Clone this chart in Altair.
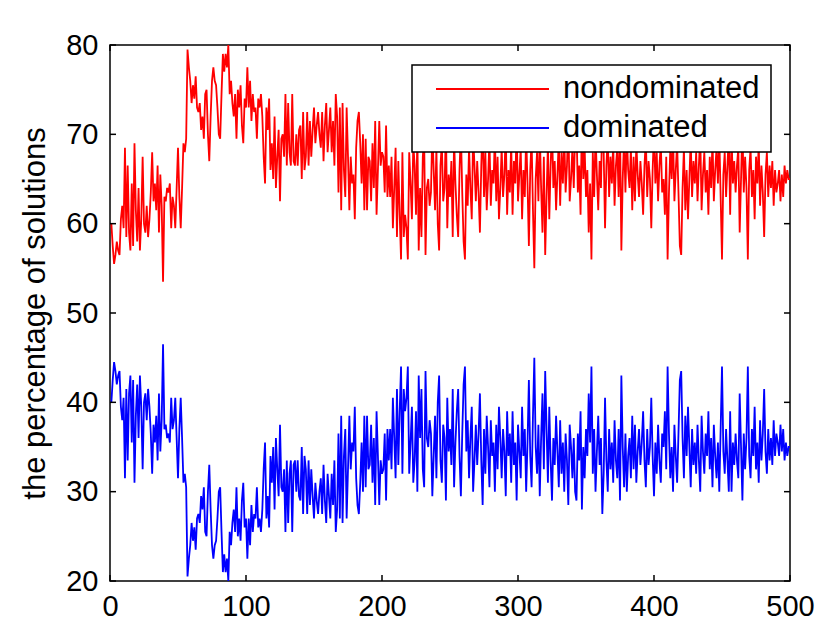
import altair as alt
import pandas as pd

# nondominated percentage, generations 1..500
nondominated = [
    60.0, 57.5, 55.5, 56.5, 58.0, 57.0, 56.5, 60.5, 62.0, 59.5,
    68.5, 58.5, 66.5, 59.0, 57.0, 64.5, 57.5, 69.0, 61.5, 58.0,
    64.0, 57.0, 60.5, 67.5, 60.0, 59.0, 62.0, 58.5, 60.5, 63.5,
    68.0, 62.5, 64.5, 61.5, 66.5, 59.0, 65.5, 62.0, 53.5, 63.0,
    62.5, 64.0, 63.5, 64.5, 59.5, 63.0, 62.0, 59.5, 64.0, 68.5,
    63.0, 59.5, 64.0, 69.0, 68.0, 69.5, 79.5, 77.5, 76.0, 73.5,
    75.5, 74.0, 76.5, 73.0, 72.5, 73.5, 70.5, 72.0, 69.5, 74.5,
    75.0, 70.0, 67.0, 72.0, 76.0, 77.5, 76.0, 75.5, 73.0, 70.0,
    69.5, 74.5, 79.0, 77.0, 79.0, 77.5, 80.0, 74.5, 76.0, 73.5,
    72.0, 74.5, 69.5, 75.0, 73.0, 75.5, 71.0, 69.0, 74.0, 73.0,
    77.5, 73.0, 76.0, 71.5, 74.5, 72.5, 73.0, 69.5, 74.0, 73.0,
    74.5, 72.0, 67.5, 64.5, 73.0, 70.5, 74.0, 66.0, 69.0, 65.0,
    72.0, 64.0, 67.5, 70.5, 62.5, 69.5, 70.0, 67.5, 74.5, 66.5,
    73.5, 68.0, 66.5, 74.5, 67.0, 66.5, 70.0, 66.5, 70.5, 71.0,
    65.0, 72.5, 66.0, 67.5, 72.5, 66.5, 71.5, 67.5, 70.5, 73.0,
    69.0, 71.0, 72.5, 70.0, 68.5, 72.5, 67.0, 71.0, 73.5, 68.0,
    70.5, 73.0, 68.0, 71.5, 66.5, 74.5, 72.0, 63.5, 73.0, 61.5,
    73.5, 66.0, 63.0, 73.0, 67.5, 61.5, 67.5, 64.5, 65.5, 60.5,
    68.5, 71.5, 72.5, 69.0, 64.5, 70.0, 61.5, 69.5, 61.5, 67.5,
    67.0, 62.5, 69.0, 64.0, 71.5, 61.0, 66.0, 71.5, 66.5, 68.0,
    67.5, 63.5, 71.0, 63.0, 66.5, 63.0, 67.5, 59.5, 64.0, 68.5,
    58.5, 67.0, 61.0, 56.0, 68.0, 58.5, 61.0, 59.5, 56.0, 68.0,
    64.5, 60.5, 69.0, 66.5, 61.0, 70.0, 57.0, 64.0, 58.5, 67.5,
    69.5, 56.5, 64.0, 65.0, 62.0, 63.5, 70.5, 66.0, 61.5, 68.5,
    60.0, 57.0, 66.5, 69.0, 62.5, 64.0, 71.0, 59.5, 65.5, 63.0,
    67.0, 58.5, 69.5, 64.5, 61.0, 58.5, 66.0, 70.5, 63.5, 58.0,
    56.0, 65.5, 62.0, 68.5, 64.0, 60.5, 70.0, 66.5, 62.5, 67.0,
    63.5, 59.0, 66.5, 71.5, 63.0, 68.0, 61.5, 65.0, 69.5, 62.0,
    66.0, 64.5, 70.0, 62.5, 67.5, 60.5, 64.0, 68.5, 63.0, 65.5,
    70.5, 61.0, 66.0, 63.5, 69.0, 61.0, 67.0, 64.5, 71.0, 62.5,
    65.5, 68.5, 60.5, 66.0, 63.0, 70.0, 64.5, 57.5, 66.0, 69.5,
    61.5, 55.0, 65.0, 68.0, 62.5, 70.5, 64.0, 59.0, 67.5, 56.5,
    63.0, 69.0, 60.5, 66.5, 71.0, 64.0, 67.0, 61.5, 65.5, 69.5,
    62.0, 68.0, 64.5, 70.0, 63.5, 66.5, 71.5, 62.5, 65.0, 68.5,
    64.0, 70.0, 71.0, 63.5, 66.5, 61.0, 72.0, 65.0, 68.5, 63.0,
    66.0, 59.0, 64.5, 56.0, 68.0, 63.0, 70.0, 65.5, 61.5, 67.0,
    64.0, 72.5, 68.0, 59.5, 66.5, 70.0, 63.0, 67.5, 64.5, 69.0,
    62.0, 66.5, 68.5, 63.0, 71.0, 57.0, 65.0, 69.5, 63.5, 70.0,
    66.0, 64.0, 68.5, 61.5, 67.5, 62.5, 69.0, 65.5, 63.0, 67.0,
    64.5, 61.0, 66.5, 69.5, 63.0, 67.0, 65.0, 59.5, 66.0, 70.5,
    64.5, 68.0, 62.5, 66.5, 69.0, 63.5, 65.0, 61.0, 67.5, 56.0,
    63.5, 68.5, 65.0, 70.0, 62.5, 66.0, 69.0, 63.5, 57.5, 56.5,
    64.0, 68.5, 61.5, 66.0, 60.5, 65.0, 69.5, 63.0, 67.0, 64.5,
    68.0, 62.5, 66.5, 70.0, 61.5, 65.5, 68.0, 63.5, 66.0, 61.0,
    67.5, 64.0, 69.5, 62.5, 66.0, 68.5, 64.5, 70.0, 63.0, 56.0,
    65.5, 68.0, 63.0, 66.5, 70.0, 61.0, 70.0, 64.5, 67.0, 63.5,
    66.5, 68.5, 59.0, 65.0, 71.0, 63.5, 67.5, 64.0, 56.0, 66.0,
    68.5, 63.0, 66.0, 60.5, 67.5, 64.5, 69.0, 62.0, 66.5, 63.5,
    58.5, 65.5, 68.0, 63.0, 66.5, 64.0, 67.0, 62.0, 66.0, 63.5,
    64.5, 66.0, 62.5, 65.5, 63.0, 66.5, 64.5, 66.0, 65.0, 65.0,
]
# the two shares add up to 100 percent
dominated = [round(100.0 - v, 1) for v in nondominated]
generations = list(range(1, len(nondominated) + 1))

series_names = ["nondominated", "dominated"]
series_colors = ["#ff0000", "#0000ff"]
x_ticks = [0, 100, 200, 300, 400, 500]
y_ticks = [20, 30, 40, 50, 60, 70, 80]

W, H = 680, 536
FONT = "Liberation Sans"

df = pd.DataFrame({
    "x": generations * 2,
    "value": nondominated + dominated,
    "series": ["nondominated"] * len(nondominated) + ["dominated"] * len(dominated),
})

xscale = alt.Scale(domain=[0, 500], nice=False, zero=False)
yscale = alt.Scale(domain=[20, 80], nice=False, zero=False)

xaxis = alt.Axis(
    values=x_ticks, title=None, tickSize=0, domain=False, grid=False,
    labelFontSize=29, labelFont=FONT, labelColor="black", labelPadding=11,
    labelFlush=False, labelOverlap=False)
yaxis = alt.Axis(
    values=y_ticks, title="the percentage of solutions", tickSize=0,
    domain=False, grid=False, labelFontSize=29, labelFont=FONT,
    labelColor="black", labelPadding=12, labelFlush=False, labelOverlap=False,
    titleFont=FONT, titleFontSize=31, titleFontWeight="normal",
    titleColor="black", titleX=-75, titleY=H / 2, titleAngle=270,
    titleAlign="center", titleBaseline="middle")

lines = alt.Chart(df).mark_line(strokeWidth=1.8, clip=True).encode(
    x=alt.X("x:Q", scale=xscale, axis=xaxis, title=None),
    y=alt.Y("value:Q", scale=yscale, axis=yaxis, title="the percentage of solutions"),
    color=alt.Color("series:N", scale=alt.Scale(domain=series_names, range=series_colors), legend=None),
    detail="series:N",
)

xt = pd.DataFrame({"t": x_ticks})
yt = pd.DataFrame({"t": y_ticks})
TL = 6
tick_style = dict(color="black", strokeWidth=1.5)

xb = alt.Chart(xt).mark_rule(**tick_style).encode(
    x=alt.X("t:Q", scale=xscale, axis=xaxis, title=None), y=alt.value(H), y2=alt.value(H - TL))
xtp = alt.Chart(xt).mark_rule(**tick_style).encode(
    x=alt.X("t:Q", scale=xscale, axis=xaxis, title=None), y=alt.value(0), y2=alt.value(TL))
yl = alt.Chart(yt).mark_rule(**tick_style).encode(
    y=alt.Y("t:Q", scale=yscale, axis=yaxis, title="the percentage of solutions"),
    x=alt.value(0), x2=alt.value(TL))
yr = alt.Chart(yt).mark_rule(**tick_style).encode(
    y=alt.Y("t:Q", scale=yscale, axis=yaxis, title="the percentage of solutions"),
    x=alt.value(W), x2=alt.value(W - TL))

box = alt.Chart(pd.DataFrame({"a": [0]})).mark_rect(
    fill="white", stroke="black", strokeWidth=1.5).encode(
    x=alt.value(302), x2=alt.value(661), y=alt.value(20), y2=alt.value(107))

leg = pd.DataFrame({"name": series_names, "color": series_colors, "ly": [44, 83]})
leg_lines = alt.Chart(leg).mark_rule(strokeWidth=1.8).encode(
    x=alt.value(326), x2=alt.value(439), y=alt.Y("ly:Q", scale=None),
    color=alt.Color("color:N", scale=None, legend=None))
leg_text = alt.Chart(leg).mark_text(
    align="left", baseline="middle", font=FONT, fontSize=31, color="black").encode(
    x=alt.value(453), y=alt.Y("ly:Q", scale=None), text="name:N")

chart = alt.layer(lines, xb, xtp, yl, yr, box, leg_lines, leg_text).properties(
    width=W, height=H,
    background="white",
    autosize=alt.AutoSizeParams(type="none"),
    padding={"left": 102, "top": 37, "right": 30, "bottom": 40},
).configure_view(stroke="black", strokeWidth=1.5)

chart.save("out.html", embed_options={"renderer": "svg", "actions": False})
